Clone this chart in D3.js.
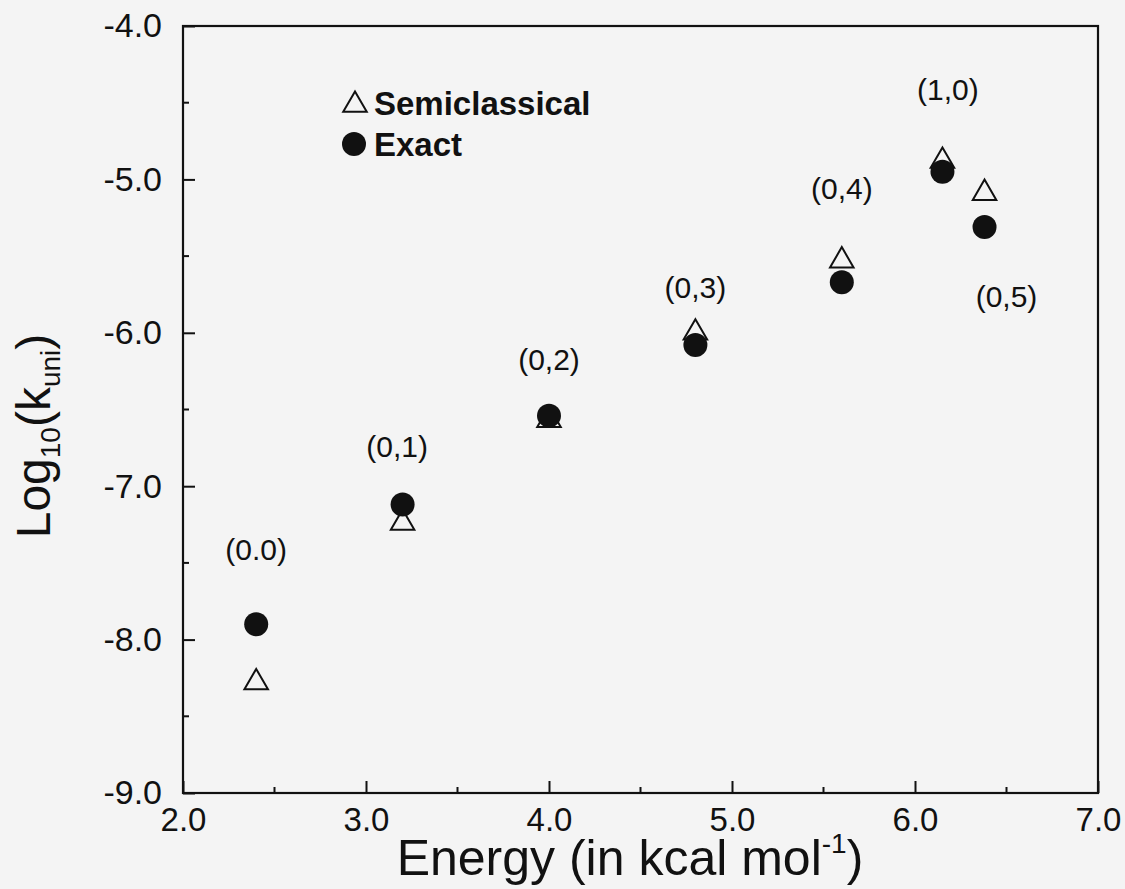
<!DOCTYPE html>
<html><head><meta charset="utf-8">
<script src="https://cdn.jsdelivr.net/npm/d3@7"></script>
<style>body{margin:0;background:#f4f4f4;} svg{display:block;font-family:"Liberation Sans",Arial,Helvetica,sans-serif;}</style>
</head><body>
<svg id="c" width="1125" height="889"></svg>
<script>
const energy = [2.4, 3.2, 4.0, 4.8, 5.6, 6.15, 6.38];
const exactVals = [-7.90, -7.12, -6.54, -6.08, -5.67, -4.95, -5.31];
const semiVals = [-8.28, -7.24, -6.57, -6.00, -5.53, -4.88, -5.09];
const stateLabels = ["(0.0)", "(0,1)", "(0,2)", "(0,3)", "(0,4)", "(1,0)", "(0,5)"];
const labelX = [2.4, 3.17, 4.0, 4.8, 5.6, 6.18, 6.5];
const labelY = [-7.48, -6.81, -6.24, -5.77, -5.13, -4.48, -5.83];
const xTicks = [2, 3, 4, 5, 6, 7];
const yTicks = [-9, -8, -7, -6, -5, -4];

const svg = d3.select("#c");
const m = {l:183, r:1098, t:26, b:793};
const x = d3.scaleLinear().domain([2,7]).range([m.l, m.r]);
const y = d3.scaleLinear().domain([-9,-4]).range([m.b, m.t]);
const fmt = d => d.toFixed(1);

// frame
svg.append("rect").attr("x", m.l).attr("y", m.t).attr("width", m.r-m.l).attr("height", m.b-m.t)
  .attr("fill","none").attr("stroke","#111").attr("stroke-width",2.2);

// x axis ticks (inward)
const xMinor = d3.range(2.5, 7, 1);
const gx = svg.append("g").attr("transform",`translate(0,${m.b})`)
  .call(d3.axisBottom(x).tickValues(xTicks).tickSize(-12).tickFormat(fmt));
gx.select(".domain").remove();
gx.selectAll("line").attr("stroke","#111").attr("stroke-width",2);
gx.selectAll("text").attr("font-size",33).attr("fill","#111").attr("y",38).attr("dy",0);
svg.append("g").selectAll("line").data(xMinor).join("line")
  .attr("x1",d=>x(d)).attr("x2",d=>x(d)).attr("y1",m.b).attr("y2",m.b-6).attr("stroke","#111").attr("stroke-width",2);

const yMinor = d3.range(-8.5, -4, 1);
const gy = svg.append("g").attr("transform",`translate(${m.l},0)`)
  .call(d3.axisLeft(y).tickValues(yTicks).tickSize(-12).tickPadding(21).tickFormat(fmt));
gy.select(".domain").remove();
gy.selectAll("line").attr("stroke","#111").attr("stroke-width",2);
gy.selectAll("text").attr("font-size",34).attr("fill","#111");
svg.append("g").selectAll("line").data(yMinor).join("line")
  .attr("x1",m.l).attr("x2",m.l+6).attr("y1",d=>y(d)).attr("y2",d=>y(d)).attr("stroke","#111").attr("stroke-width",2);

// markers
const tri = d3.symbol().type(d3.symbolTriangle).size(240);
svg.append("g").selectAll("path").data(energy).join("path")
  .attr("d", tri).attr("transform",(d,i)=>`translate(${x(d)},${y(semiVals[i])})`)
  .attr("fill","#f4f4f4").attr("stroke","#111").attr("stroke-width",2);
svg.append("g").selectAll("circle").data(energy).join("circle")
  .attr("cx",d=>x(d)).attr("cy",(d,i)=>y(exactVals[i])).attr("r",12).attr("fill","#111");

// state labels
svg.append("g").selectAll("text").data(stateLabels).join("text")
  .attr("x",(d,i)=>x(labelX[i])).attr("y",(d,i)=>y(labelY[i]))
  .attr("text-anchor","middle").attr("font-size",30).attr("fill","#111").text(d=>d);

// legend
const lg = svg.append("g");
lg.append("path").attr("d", tri).attr("transform","translate(355,105)")
  .attr("fill","#f4f4f4").attr("stroke","#111").attr("stroke-width",2);
lg.append("text").attr("x",374).attr("y",115).attr("font-size",33).attr("font-weight","bold").attr("fill","#111").text("Semiclassical");
lg.append("circle").attr("cx",354).attr("cy",144).attr("r",12).attr("fill","#111");
lg.append("text").attr("x",374).attr("y",156).attr("font-size",33).attr("font-weight","bold").attr("fill","#111").text("Exact");

// axis titles
const xt = svg.append("text").attr("x",630).attr("y",875).attr("text-anchor","middle").attr("font-size",50).attr("fill","#111");
xt.append("tspan").text("Energy (in kcal mol");
xt.append("tspan").attr("font-size",28).attr("dy",-22).text("-1");
xt.append("tspan").attr("dy",22).text(")");

const yt = svg.append("text").attr("transform","translate(50,436) rotate(-90)").attr("text-anchor","middle").attr("font-size",48).attr("fill","#111");
yt.append("tspan").text("Log");
yt.append("tspan").attr("font-size",28).attr("dy",10).text("10");
yt.append("tspan").attr("dy",-10).text("(k");
yt.append("tspan").attr("font-size",28).attr("dy",10).text("uni");
yt.append("tspan").attr("dy",-10).text(")");
</script>
</body></html>
